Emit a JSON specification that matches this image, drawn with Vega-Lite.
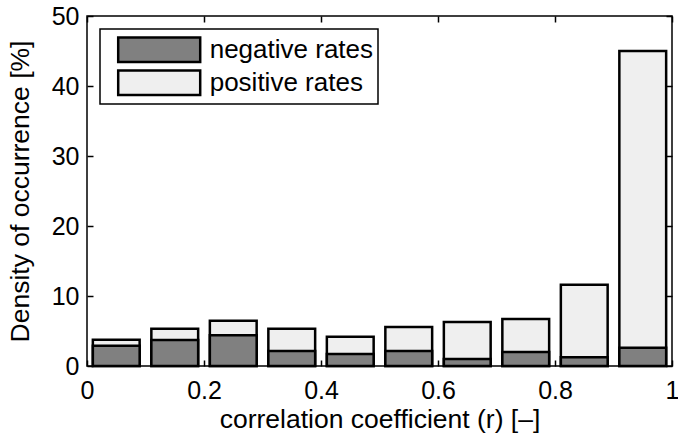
{
  "$schema": "https://vega.github.io/schema/vega-lite/v6.json",
  "width": 585,
  "height": 350,
  "autosize": {"type": "none"},
  "padding": {"left": 87, "top": 16, "right": 6, "bottom": 72},
  "background": "white",
  "config": {
    "view": {"stroke": "black", "strokeWidth": 1.5},
    "font": "Liberation Sans",
    "axis": {
      "grid": false,
      "domain": false,
      "tickColor": "black",
      "tickWidth": 1.5,
      "tickSize": -6,
      "labelColor": "black",
      "titleColor": "black",
      "labelFont": "Liberation Sans",
      "titleFont": "Liberation Sans",
      "labelFontSize": 25,
      "titleFontSize": 26.5,
      "titleFontWeight": "normal"
    },
    "legend": {"strokeWidth": 1.5}
  },
  "data": {
    "values": [
      {"lo": 0.01, "hi": 0.09, "series": "positive rates", "value": 3.76},
      {"lo": 0.11, "hi": 0.19, "series": "positive rates", "value": 5.33},
      {"lo": 0.21, "hi": 0.29, "series": "positive rates", "value": 6.48},
      {"lo": 0.31, "hi": 0.39, "series": "positive rates", "value": 5.33},
      {"lo": 0.41, "hi": 0.49, "series": "positive rates", "value": 4.19},
      {"lo": 0.51, "hi": 0.59, "series": "positive rates", "value": 5.57},
      {"lo": 0.61, "hi": 0.69, "series": "positive rates", "value": 6.29},
      {"lo": 0.71, "hi": 0.79, "series": "positive rates", "value": 6.71},
      {"lo": 0.81, "hi": 0.89, "series": "positive rates", "value": 11.6},
      {"lo": 0.91, "hi": 0.99, "series": "positive rates", "value": 45.0},
      {"lo": 0.01, "hi": 0.09, "series": "negative rates", "value": 2.9},
      {"lo": 0.11, "hi": 0.19, "series": "negative rates", "value": 3.7},
      {"lo": 0.21, "hi": 0.29, "series": "negative rates", "value": 4.38},
      {"lo": 0.31, "hi": 0.39, "series": "negative rates", "value": 2.14},
      {"lo": 0.41, "hi": 0.49, "series": "negative rates", "value": 1.71},
      {"lo": 0.51, "hi": 0.59, "series": "negative rates", "value": 2.14},
      {"lo": 0.61, "hi": 0.69, "series": "negative rates", "value": 1.0},
      {"lo": 0.71, "hi": 0.79, "series": "negative rates", "value": 2.0},
      {"lo": 0.81, "hi": 0.89, "series": "negative rates", "value": 1.24},
      {"lo": 0.91, "hi": 0.99, "series": "negative rates", "value": 2.62}
    ]
  },
  "layer": [
    {
      "mark": {"type": "bar", "stroke": "black", "strokeWidth": 2.5},
      "encoding": {
        "x": {
          "field": "lo",
          "type": "quantitative",
          "scale": {"domain": [0, 1], "nice": false, "zero": false},
          "axis": {
            "orient": "bottom",
            "values": [0, 0.2, 0.4, 0.6, 0.8, 1],
            "format": "~f",
            "labelFlush": false,
            "labelPadding": 18,
            "title": "correlation coefficient (r) [–]",
            "titlePadding": 3
          }
        },
        "x2": {"field": "hi"},
        "y": {
          "field": "value",
          "type": "quantitative",
          "stack": null,
          "scale": {"domain": [0, 50], "nice": false},
          "axis": {
            "orient": "left",
            "values": [0, 10, 20, 30, 40, 50],
            "labelFlush": false,
            "labelPadding": 14,
            "title": "Density of occurrence [%]",
            "titlePadding": 17
          }
        },
        "y2": {"datum": 0},
        "color": {
          "field": "series",
          "type": "nominal",
          "scale": {"domain": ["negative rates", "positive rates"], "range": ["#808080", "#efefef"]},
          "legend": {
            "title": null,
            "orient": "none",
            "legendX": 13,
            "legendY": 13,
            "padding": 4.7,
            "strokeColor": "black",
            "fillColor": "white",
            "symbolType": "M-1,-0.3H1V0.3H-1Z",
            "symbolSize": 6724,
            "symbolStrokeColor": "black",
            "symbolStrokeWidth": 2.5,
            "symbolOpacity": 1,
            "symbolOffset": 12,
            "labelOffset": 8,
            "labelLimit": 400,
            "labelFont": "Liberation Sans",
            "labelFontSize": 26,
            "labelColor": "black",
            "clipHeight": 32,
            "rowPadding": 1
          }
        }
      }
    },
    {
      "mark": {"type": "point", "opacity": 0},
      "encoding": {
        "x": {
          "field": "lo",
          "type": "quantitative",
          "scale": {"domain": [0, 1], "nice": false, "zero": false},
          "axis": {"orient": "top", "values": [0, 0.2, 0.4, 0.6, 0.8, 1], "labels": false, "title": null}
        },
        "y": {
          "field": "value",
          "type": "quantitative",
          "scale": {"domain": [0, 50], "nice": false},
          "axis": {"orient": "right", "values": [0, 10, 20, 30, 40, 50], "labels": false, "title": null}
        }
      }
    }
  ],
  "resolve": {"axis": {"x": "independent", "y": "independent"}}
}
